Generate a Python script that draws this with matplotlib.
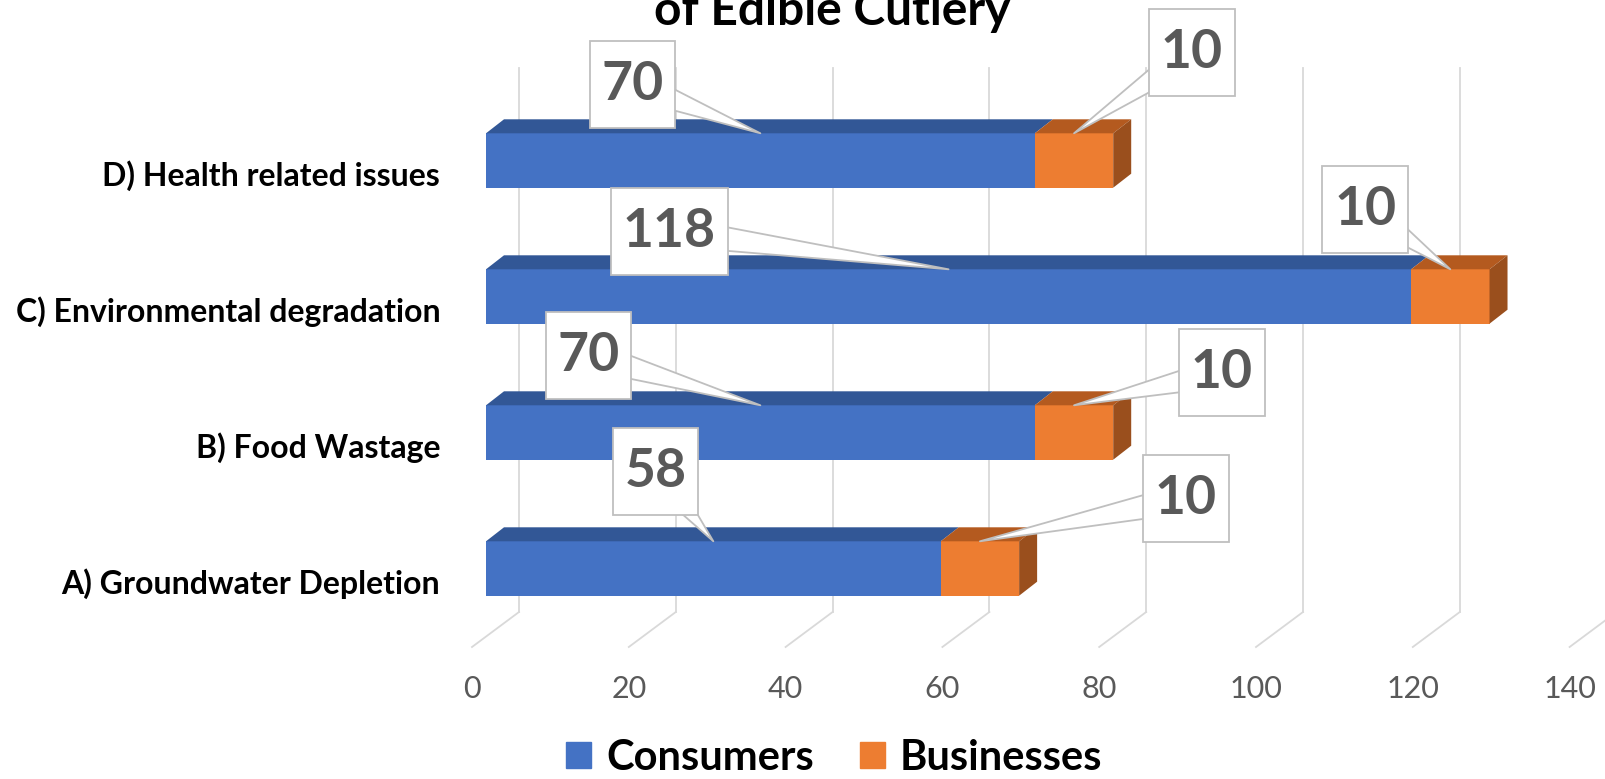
import matplotlib
matplotlib.use('Agg')
import matplotlib.pyplot as plt
from matplotlib.patches import Polygon, Patch
from matplotlib.path import Path
from matplotlib.transforms import ScaledTranslation

# data
categories = ['A) Groundwater Depletion', 'B) Food Wastage',
              'C) Environmental degradation', 'D) Health related issues']
consumers = [58, 70, 118, 70]
businesses = [10, 10, 10, 10]
series = ['Consumers', 'Businesses']
xticks = [0, 20, 40, 60, 80, 100, 120, 140]

# callout box offsets from the pointed spot (pixels, right / up)
cons_offsets = [(-58, 70), (-172, 50), (-279, 38), (-128, 49)]
bus_offsets = [(206, 43), (148, 33), (-85, 60), (118, 81)]

plt.rcParams['font.family'] = ['Lato', 'DejaVu Sans']

W, H = 1605, 779
fig = plt.figure(figsize=(W / 100, H / 100), dpi=100)

# axes box in pixels (front plane of the 3d bars)
ax_l, ax_r = 486, 486 + 140 * 7.84
ax_t, ax_b = 92.5, 636.5
ax = fig.add_axes([ax_l / W, 1 - ax_b / H, (ax_r - ax_l) / W, (ax_b - ax_t) / H])
ax.set_xlim(0, 140)
ax.set_ylim(-0.5, 3.5)
ux = 140 / (ax_r - ax_l)
uy = 4 / (ax_b - ax_t)


def py(p):
    # pixel row -> data y
    return 3.5 - (p - ax_t) * uy


def callout_box(x0, y0, width, height, mutation_size):
    # square box, more padding top/bottom than left/right
    padx, pady = 0.22 * mutation_size, 0.36 * mutation_size
    x0, y0 = x0 - padx, y0 - pady
    x1, y1 = x0 + width + 2 * padx, y0 + height + 2 * pady
    return Path([(x0, y0), (x1, y0), (x1, y1), (x0, y1), (x0, y0)], closed=True)


# back wall gridlines + floor lines
grid_c = '#D9D9D9'
for v in xticks:
    xb = v + 33 * ux
    ax.plot([xb, xb], [py(68), py(612)], color=grid_c, lw=1.3, clip_on=False, zorder=0)
    ax.plot([xb, v - 14 * ux], [py(612), py(647)], color=grid_c, lw=1.3,
            clip_on=False, zorder=0)

# bars
h = 0.4
ddx, ddy = 18 * ux, 14 * uy
blue, blue_top = '#4472C4', '#325796'
orange, orange_top, orange_side = '#ED7D31', '#B45A1F', '#9A4F1D'
ypos = list(range(len(categories)))

ax.barh(ypos, consumers, height=h, color=blue, zorder=2)
ax.barh(ypos, businesses, left=consumers, height=h, color=orange, zorder=2)

for i in ypos:
    top = i + h / 2
    bot = i - h / 2
    c, b = consumers[i], consumers[i] + businesses[i]
    ax.add_patch(Polygon([(0, top), (c, top), (c + ddx, top + ddy), (ddx, top + ddy)],
                         closed=True, fc=blue_top, ec='none', zorder=2))
    ax.add_patch(Polygon([(c, top), (b, top), (b + ddx, top + ddy), (c + ddx, top + ddy)],
                         closed=True, fc=orange_top, ec='none', zorder=2))
    ax.add_patch(Polygon([(b, bot), (b, top), (b + ddx, top + ddy), (b + ddx, bot + ddy)],
                         closed=True, fc=orange_side, ec='none', zorder=2))

# callouts
box = dict(boxstyle=callout_box, fc='white', ec='#BFBFBF', lw=1.3)
arrow = dict(arrowstyle='wedge,tail_width=0.55', fc='white', ec='#BFBFBF', lw=1.3,
             shrinkA=0, shrinkB=0, patchA=None)
for i in ypos:
    ax.annotate(str(consumers[i]), xy=(consumers[i] / 2, i + h / 2),
                xytext=cons_offsets[i], textcoords='offset pixels',
                ha='center', va='center', fontsize=38.5, fontweight='bold',
                color='#595959', bbox=box, arrowprops=arrow, zorder=5,
                annotation_clip=False)
    ax.annotate(str(businesses[i]), xy=(consumers[i] + businesses[i] / 2, i + h / 2),
                xytext=bus_offsets[i], textcoords='offset pixels',
                ha='center', va='center', fontsize=38.5, fontweight='bold',
                color='#595959', bbox=box, arrowprops=arrow, zorder=5,
                annotation_clip=False)

# axes text
ax.set_yticks(ypos)
ax.set_yticklabels(categories, fontsize=23, fontweight='bold')
ax.tick_params(axis='y', length=0, pad=33)
for lab in ax.get_yticklabels():
    lab.set_transform(lab.get_transform() + ScaledTranslation(0, -13 / 100, fig.dpi_scale_trans))

ax.set_xticks(xticks)
ax.set_xticklabels([str(t) for t in xticks])
ax.tick_params(axis='x', length=0, pad=28, labelsize=22, labelcolor='#595959')
for lab in ax.get_xticklabels():
    lab.set_transform(lab.get_transform() + ScaledTranslation(-14 / 100, 0, fig.dpi_scale_trans))

for s in ax.spines.values():
    s.set_visible(False)
ax.patch.set_visible(False)

fig.text(832 / W, 1 - 25 / H, 'of Edible Cutlery', ha='center', va='baseline',
         fontsize=34.5, fontweight='bold', color='black')

handles = [Patch(color=blue), Patch(color=orange)]
fig.legend(handles, series, loc='lower center', bbox_to_anchor=(834 / W, 0), ncol=2,
           frameon=False, prop=dict(weight='bold', size=30), handlelength=0.6,
           handleheight=0.6, handletextpad=0.35, columnspacing=1.1, borderpad=0.05,
           borderaxespad=0)

fig.savefig('out.png', dpi=100)
